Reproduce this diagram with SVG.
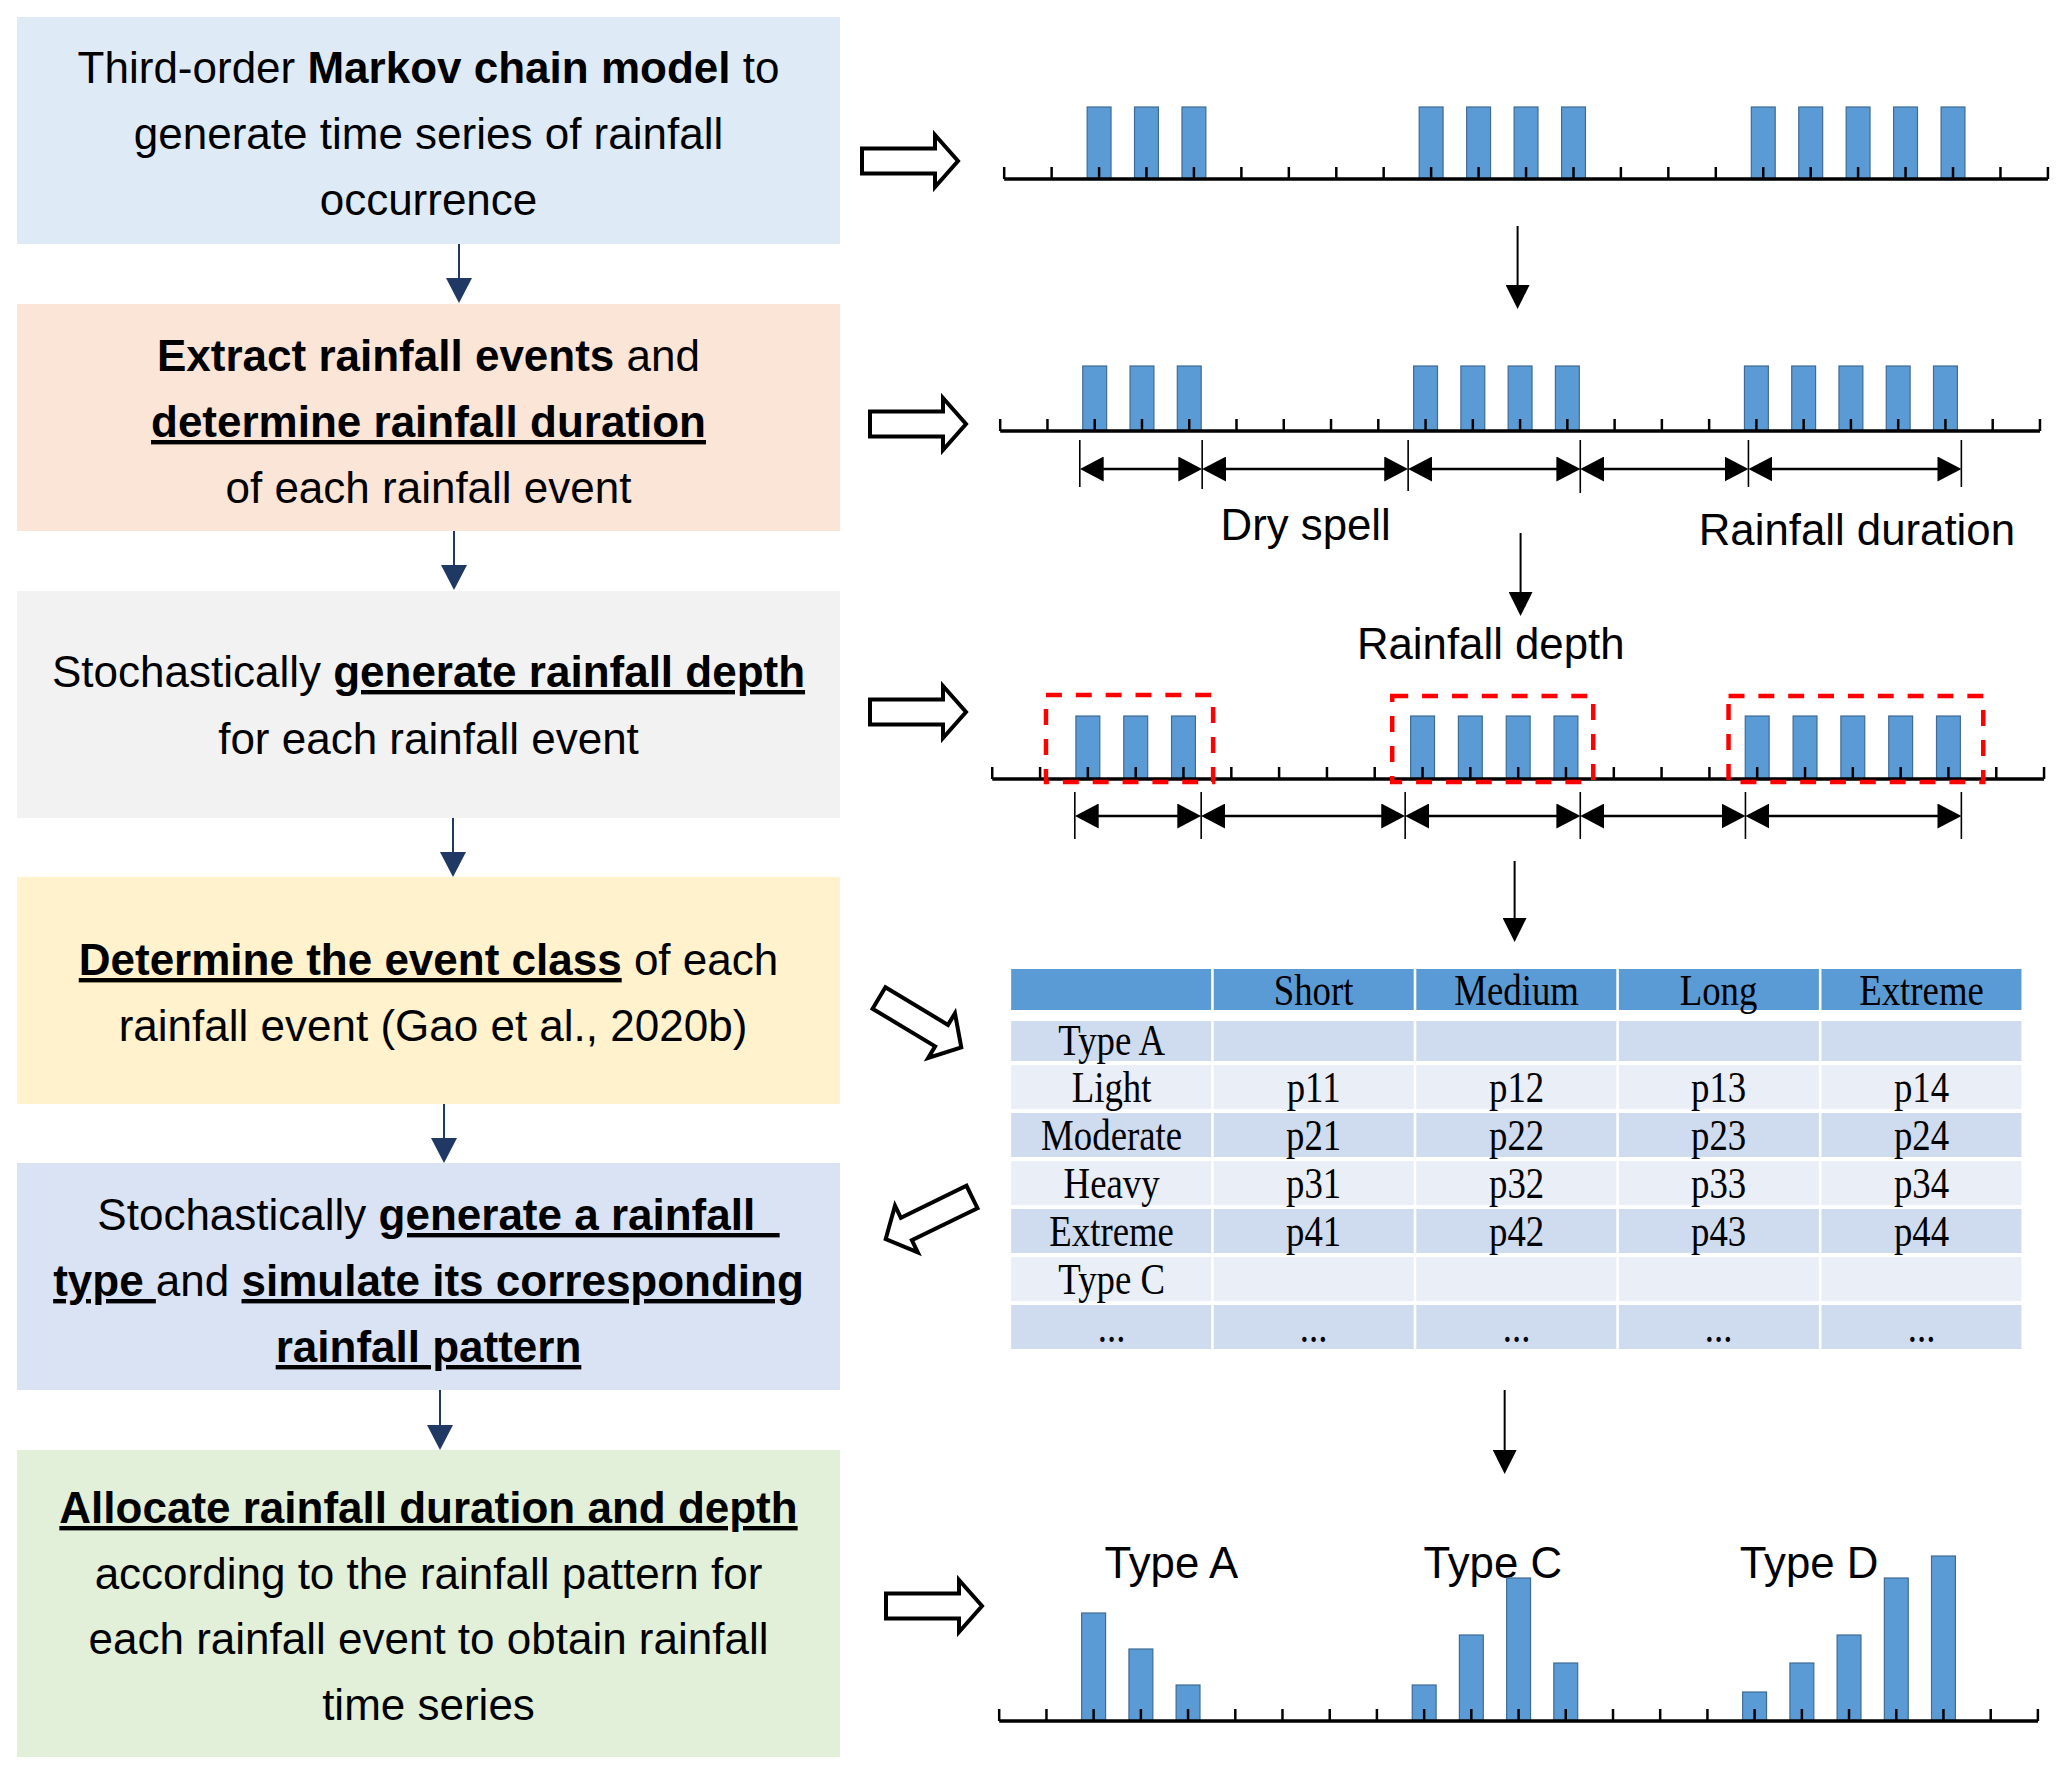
<svg xmlns="http://www.w3.org/2000/svg" xmlns:xlink="http://www.w3.org/1999/xlink" width="2067" height="1776" viewBox="0 0 2067 1776">
<style>
.lbl{font-family:"Liberation Sans",Arial,sans-serif;font-size:44px;fill:#000;text-anchor:middle}
.b{font-weight:bold}
.u{text-decoration:underline}
.tb{font-family:"Liberation Serif","Times New Roman",serif;font-size:37px;fill:#000;text-anchor:middle}
.bar{fill:#5B9BD5;stroke:#3F6A94;stroke-width:1.2}
.axis{stroke:#000;stroke-width:3.5;fill:none}
.tick{stroke:#000;stroke-width:2.5;fill:none}
.hollow{fill:#fff;stroke:#000;stroke-width:4;stroke-linejoin:miter}
.navy{stroke:#1F3864;stroke-width:2;fill:none}
.blk{stroke:#000;stroke-width:2;fill:none}
.dim{stroke:#000;stroke-width:2.3;fill:none}
.vl{stroke:#000;stroke-width:1.6;fill:none}
.red{fill:none;stroke:#FF0000;stroke-width:4.5;stroke-dasharray:16 14}
.hdr{fill:#5B9BD5}
.rd{fill:#CFDBEE}
.rl{fill:#E9EEF7}
</style>
<defs>
<marker id="navyHead" viewBox="0 0 25 26" refX="15" refY="13" markerWidth="25" markerHeight="26" orient="auto" markerUnits="userSpaceOnUse"><path d="M0,0 L25,13 L0,26 Z" fill="#1F3864"/></marker>
<marker id="blkHead" viewBox="0 0 24 24" refX="14" refY="12" markerWidth="24" markerHeight="24" orient="auto" markerUnits="userSpaceOnUse"><path d="M0,0 L24,12 L0,24 Z" fill="#000"/></marker>
<marker id="dimHead" viewBox="0 0 24 25" refX="20" refY="12.5" markerWidth="24" markerHeight="25" orient="auto-start-reverse" markerUnits="userSpaceOnUse"><path d="M0,0 L24,12.5 L0,25 Z" fill="#000"/></marker>
<path id="hollowArrow" d="M0,-12.5 H73 V-26 L96,0 L73,26 V12.5 H0 Z"/>
</defs>
<rect x="0" y="0" width="2067" height="1776" fill="#fff"/>

<!-- Left flow boxes -->
<g id="n1">
<rect x="17" y="17" width="823" height="227" fill="#DEEBF7"/>
<text class="lbl" x="428.5" y="83">Third-order <tspan class="b">Markov chain model</tspan> to</text>
<text class="lbl" x="428.5" y="149">generate time series of rainfall</text>
<text class="lbl" x="428.5" y="215">occurrence</text>
</g>
<g id="n2">
<rect x="17" y="304" width="823" height="227" fill="#FBE5D6"/>
<text class="lbl" x="428.5" y="371"><tspan class="b">Extract rainfall events</tspan> and</text>
<text class="lbl b u" x="428.5" y="437">determine rainfall duration</text>
<text class="lbl" x="428.5" y="503">of each rainfall event</text>
</g>
<g id="n3">
<rect x="17" y="591" width="823" height="227" fill="#F2F2F2"/>
<text class="lbl" x="428.5" y="687">Stochastically <tspan class="b u">generate rainfall depth</tspan></text>
<text class="lbl" x="428.5" y="754">for each rainfall event</text>
</g>
<g id="n4">
<rect x="17" y="877" width="823" height="227" fill="#FFF2CC"/>
<text class="lbl" x="428.5" y="975"><tspan class="b u">Determine the event class</tspan> of each</text>
<text class="lbl" x="433" y="1041">rainfall event (Gao et al., 2020b)</text>
</g>
<g id="n5">
<rect x="17" y="1163" width="823" height="227" fill="#DAE3F3"/>
<text class="lbl" x="438.5" y="1230" xml:space="preserve" style="white-space:pre">Stochastically <tspan class="b u">generate a rainfall  </tspan></text>
<text class="lbl" x="428.5" y="1296" xml:space="preserve" style="white-space:pre"><tspan class="b u">type </tspan>and <tspan class="b u">simulate its corresponding</tspan></text>
<text class="lbl b u" x="428.5" y="1362">rainfall pattern</text>
</g>
<g id="n6">
<rect x="17" y="1450" width="823" height="307" fill="#E2F0D9"/>
<text class="lbl b u" x="428.5" y="1523">Allocate rainfall duration and depth</text>
<text class="lbl" x="428.5" y="1589">according to the rainfall pattern for</text>
<text class="lbl" x="428.5" y="1654">each rainfall event to obtain rainfall</text>
<text class="lbl" x="428.5" y="1720">time series</text>
</g>

<!-- Timeline 1 -->
<g id="n7" transform="matrix(0.995,0,0,1,4.2,0)">
<rect class="bar" x="1088.4" y="107" width="24" height="72"/>
<rect class="bar" x="1136" y="107" width="24" height="72"/>
<rect class="bar" x="1183.7" y="107" width="24" height="72"/>
<rect class="bar" x="1422.1" y="107" width="24" height="72"/>
<rect class="bar" x="1469.8" y="107" width="24" height="72"/>
<rect class="bar" x="1517.5" y="107" width="24" height="72"/>
<rect class="bar" x="1565.2" y="107" width="24" height="72"/>
<rect class="bar" x="1755.9" y="107" width="24" height="72"/>
<rect class="bar" x="1803.6" y="107" width="24" height="72"/>
<rect class="bar" x="1851.2" y="107" width="24" height="72"/>
<rect class="bar" x="1898.9" y="107" width="24" height="72"/>
<rect class="bar" x="1946.6" y="107" width="24" height="72"/>
<path class="tick" d="M1005,167V179M1052.7,167V179M1100.4,167V179M1148,167V179M1195.7,167V179M1243.4,167V179M1291.1,167V179M1338.8,167V179M1386.4,167V179M1434.1,167V179M1481.8,167V179M1529.5,167V179M1577.2,167V179M1624.8,167V179M1672.5,167V179M1720.2,167V179M1767.9,167V179M1815.6,167V179M1863.2,167V179M1910.9,167V179M1958.6,167V179M2006.3,167V179M2054,167V179"/>
<line class="axis" x1="1005" y1="179" x2="2054" y2="179"/>
</g>

<!-- Timeline 2 -->
<g id="n8" transform="matrix(0.995,0,0,1,4.2,0)">
<rect class="bar" x="1084" y="366" width="24" height="65"/>
<rect class="bar" x="1131.5" y="366" width="24" height="65"/>
<rect class="bar" x="1179" y="366" width="24" height="65"/>
<rect class="bar" x="1416.5" y="366" width="24" height="65"/>
<rect class="bar" x="1464" y="366" width="24" height="65"/>
<rect class="bar" x="1511.5" y="366" width="24" height="65"/>
<rect class="bar" x="1559" y="366" width="24" height="65"/>
<rect class="bar" x="1749" y="366" width="24" height="65"/>
<rect class="bar" x="1796.5" y="366" width="24" height="65"/>
<rect class="bar" x="1844" y="366" width="24" height="65"/>
<rect class="bar" x="1891.5" y="366" width="24" height="65"/>
<rect class="bar" x="1939" y="366" width="24" height="65"/>
<path class="tick" d="M1001,419V431M1048.5,419V431M1096,419V431M1143.5,419V431M1191,419V431M1238.5,419V431M1286,419V431M1333.5,419V431M1381,419V431M1428.5,419V431M1476,419V431M1523.5,419V431M1571,419V431M1618.5,419V431M1666,419V431M1713.5,419V431M1761,419V431M1808.5,419V431M1856,419V431M1903.5,419V431M1951,419V431M1998.5,419V431M2046,419V431"/>
<line class="axis" x1="1001" y1="431" x2="2046" y2="431"/>
<path class="vl" d="M1081,440V487M1204,440V489M1411,440V491M1584,440V493M1753,440V487M1967,440V487"/>
<text class="lbl" x="1308" y="540">Dry spell</text>
<text class="lbl" x="1862" y="545">Rainfall duration</text>
</g>

<!-- Timeline 3 -->
<g id="n9" transform="matrix(0.995,0,0,1,4.2,0)">
<text class="lbl" x="1494" y="659">Rainfall depth</text>
<rect class="bar" x="1077.1" y="716" width="24" height="63"/>
<rect class="bar" x="1125.2" y="716" width="24" height="63"/>
<rect class="bar" x="1173.2" y="716" width="24" height="63"/>
<rect class="bar" x="1413.5" y="716" width="24" height="63"/>
<rect class="bar" x="1461.5" y="716" width="24" height="63"/>
<rect class="bar" x="1509.6" y="716" width="24" height="63"/>
<rect class="bar" x="1557.6" y="716" width="24" height="63"/>
<rect class="bar" x="1749.8" y="716" width="24" height="63"/>
<rect class="bar" x="1797.9" y="716" width="24" height="63"/>
<rect class="bar" x="1845.9" y="716" width="24" height="63"/>
<rect class="bar" x="1894" y="716" width="24" height="63"/>
<rect class="bar" x="1942" y="716" width="24" height="63"/>
<path class="tick" d="M993,767V779M1041.1,767V779M1089.1,767V779M1137.2,767V779M1185.2,767V779M1233.3,767V779M1281.3,767V779M1329.4,767V779M1377.4,767V779M1425.5,767V779M1473.5,767V779M1521.6,767V779M1569.6,767V779M1617.7,767V779M1665.7,767V779M1713.8,767V779M1761.8,767V779M1809.9,767V779M1857.9,767V779M1906,767V779M1954,767V779M2002.1,767V779M2050.1,767V779"/>
<line class="axis" x1="993" y1="779" x2="2050" y2="779"/>
<rect class="red" x="1047" y="695" width="168" height="87"/>
<rect class="red" x="1395" y="696" width="202" height="86"/>
<rect class="red" x="1733" y="696" width="256" height="86"/>
<path class="vl" d="M1076,792V839M1203,792V839M1408,792V839M1584,792V839M1750,792V839M1967,792V839"/>
</g>

<!-- Table -->
<g id="n10" transform="matrix(0.995,0,0,1,4.2,0)">
<rect class="hdr" x="1012" y="969" width="201" height="41"/>
<rect class="hdr" x="1215.6" y="969" width="201" height="41"/>
<rect class="hdr" x="1419.2" y="969" width="201" height="41"/>
<rect class="hdr" x="1622.8" y="969" width="201" height="41"/>
<rect class="hdr" x="1826.4" y="969" width="201" height="41"/>
<g class="rd">
<rect x="1012" y="1021" width="201" height="40"/><rect x="1215.6" y="1021" width="201" height="40"/><rect x="1419.2" y="1021" width="201" height="40"/><rect x="1622.8" y="1021" width="201" height="40"/><rect x="1826.4" y="1021" width="201" height="40"/>
<rect x="1012" y="1113" width="201" height="44"/><rect x="1215.6" y="1113" width="201" height="44"/><rect x="1419.2" y="1113" width="201" height="44"/><rect x="1622.8" y="1113" width="201" height="44"/><rect x="1826.4" y="1113" width="201" height="44"/>
<rect x="1012" y="1209" width="201" height="44"/><rect x="1215.6" y="1209" width="201" height="44"/><rect x="1419.2" y="1209" width="201" height="44"/><rect x="1622.8" y="1209" width="201" height="44"/><rect x="1826.4" y="1209" width="201" height="44"/>
<rect x="1012" y="1305" width="201" height="44"/><rect x="1215.6" y="1305" width="201" height="44"/><rect x="1419.2" y="1305" width="201" height="44"/><rect x="1622.8" y="1305" width="201" height="44"/><rect x="1826.4" y="1305" width="201" height="44"/>
</g>
<g class="rl">
<rect x="1012" y="1065" width="201" height="44"/><rect x="1215.6" y="1065" width="201" height="44"/><rect x="1419.2" y="1065" width="201" height="44"/><rect x="1622.8" y="1065" width="201" height="44"/><rect x="1826.4" y="1065" width="201" height="44"/>
<rect x="1012" y="1161" width="201" height="44"/><rect x="1215.6" y="1161" width="201" height="44"/><rect x="1419.2" y="1161" width="201" height="44"/><rect x="1622.8" y="1161" width="201" height="44"/><rect x="1826.4" y="1161" width="201" height="44"/>
<rect x="1012" y="1257" width="201" height="44"/><rect x="1215.6" y="1257" width="201" height="44"/><rect x="1419.2" y="1257" width="201" height="44"/><rect x="1622.8" y="1257" width="201" height="44"/><rect x="1826.4" y="1257" width="201" height="44"/>
</g>
<g transform="matrix(1,0,0,1.2,0,-201)">
<text class="tb" x="1316" y="1005">Short</text>
<text class="tb" x="1520" y="1005">Medium</text>
<text class="tb" x="1723" y="1005">Long</text>
<text class="tb" x="1927" y="1005">Extreme</text>
</g>
<g transform="matrix(1,0,0,1.2,0,-211)">
<text class="tb" x="1113" y="1055">Type A</text>
</g>
<g transform="matrix(1,0,0,1.2,0,-220.4)">
<text class="tb" x="1113" y="1102">Light</text>
<text class="tb" x="1316" y="1102">p11</text>
<text class="tb" x="1520" y="1102">p12</text>
<text class="tb" x="1723" y="1102">p13</text>
<text class="tb" x="1927" y="1102">p14</text>
</g>
<g transform="matrix(1,0,0,1.2,0,-230)">
<text class="tb" x="1113" y="1150">Moderate</text>
<text class="tb" x="1316" y="1150">p21</text>
<text class="tb" x="1520" y="1150">p22</text>
<text class="tb" x="1723" y="1150">p23</text>
<text class="tb" x="1927" y="1150">p24</text>
</g>
<g transform="matrix(1,0,0,1.2,0,-239.6)">
<text class="tb" x="1113" y="1198">Heavy</text>
<text class="tb" x="1316" y="1198">p31</text>
<text class="tb" x="1520" y="1198">p32</text>
<text class="tb" x="1723" y="1198">p33</text>
<text class="tb" x="1927" y="1198">p34</text>
</g>
<g transform="matrix(1,0,0,1.2,0,-249.2)">
<text class="tb" x="1113" y="1246">Extreme</text>
<text class="tb" x="1316" y="1246">p41</text>
<text class="tb" x="1520" y="1246">p42</text>
<text class="tb" x="1723" y="1246">p43</text>
<text class="tb" x="1927" y="1246">p44</text>
</g>
<g transform="matrix(1,0,0,1.2,0,-258.8)">
<text class="tb" x="1113" y="1294">Type C</text>
</g>
<g transform="matrix(1,0,0,1.2,0,-268.4)">
<text class="tb" x="1113" y="1342">...</text>
<text class="tb" x="1316" y="1342">...</text>
<text class="tb" x="1520" y="1342">...</text>
<text class="tb" x="1723" y="1342">...</text>
<text class="tb" x="1927" y="1342">...</text>
</g>
</g>

<!-- Rainfall patterns -->
<g id="n11" transform="matrix(0.995,0,0,1,4.2,0)">
<text class="lbl" x="1173" y="1578">Type A</text>
<text class="lbl" x="1496" y="1578">Type C</text>
<text class="lbl" x="1814" y="1578">Type D</text>
<rect class="bar" x="1082.9" y="1613" width="24" height="108"/>
<rect class="bar" x="1130.4" y="1649" width="24" height="72"/>
<rect class="bar" x="1177.8" y="1685" width="24" height="36"/>
<rect class="bar" x="1415.1" y="1685" width="24" height="36"/>
<rect class="bar" x="1462.5" y="1635" width="24" height="86"/>
<rect class="bar" x="1510" y="1578" width="24" height="143"/>
<rect class="bar" x="1557.4" y="1663" width="24" height="58"/>
<rect class="bar" x="1747.2" y="1692" width="24" height="29"/>
<rect class="bar" x="1794.7" y="1663" width="24" height="58"/>
<rect class="bar" x="1842.1" y="1635" width="24" height="86"/>
<rect class="bar" x="1889.6" y="1578" width="24" height="143"/>
<rect class="bar" x="1937" y="1556" width="24" height="165"/>
<path class="tick" d="M1000,1709V1721M1047.5,1709V1721M1094.9,1709V1721M1142.4,1709V1721M1189.8,1709V1721M1237.3,1709V1721M1284.7,1709V1721M1332.2,1709V1721M1379.6,1709V1721M1427.1,1709V1721M1474.5,1709V1721M1522,1709V1721M1569.4,1709V1721M1616.9,1709V1721M1664.3,1709V1721M1711.8,1709V1721M1759.2,1709V1721M1806.7,1709V1721M1854.1,1709V1721M1901.6,1709V1721M1949,1709V1721M1996.5,1709V1721M2043.9,1709V1721"/>
<line class="axis" x1="1000" y1="1721" x2="2044" y2="1721"/>
</g>

<!-- Connectors -->
<g id="connectors">
<line class="navy" x1="459" y1="244" x2="459" y2="293" marker-end="url(#navyHead)"/>
<line class="navy" x1="454" y1="531" x2="454" y2="580" marker-end="url(#navyHead)"/>
<line class="navy" x1="453" y1="818" x2="453" y2="867" marker-end="url(#navyHead)"/>
<line class="navy" x1="444" y1="1104" x2="444" y2="1153" marker-end="url(#navyHead)"/>
<line class="navy" x1="440" y1="1390" x2="440" y2="1440" marker-end="url(#navyHead)"/>
<use href="#hollowArrow" class="hollow" transform="translate(862,161)"/>
<use href="#hollowArrow" class="hollow" transform="translate(870,424)"/>
<use href="#hollowArrow" class="hollow" transform="translate(870,712)"/>
<use href="#hollowArrow" class="hollow" transform="translate(879,998) rotate(31)"/>
<use href="#hollowArrow" class="hollow" transform="translate(972,1197) rotate(154)"/>
<use href="#hollowArrow" class="hollow" transform="translate(886,1606)"/>
<g transform="matrix(0.995,0,0,1,4.2,0)">
<line class="blk" x1="1521" y1="226" x2="1521" y2="299" marker-end="url(#blkHead)"/>
<line class="blk" x1="1524" y1="533" x2="1524" y2="606" marker-end="url(#blkHead)"/>
<line class="blk" x1="1518" y1="861" x2="1518" y2="932" marker-end="url(#blkHead)"/>
<line class="blk" x1="1508" y1="1390" x2="1508" y2="1464" marker-end="url(#blkHead)"/>
<g marker-start="url(#dimHead)" marker-end="url(#dimHead)">
<line class="dim" x1="1085" y1="469" x2="1200" y2="469"/>
<line class="dim" x1="1208" y1="469" x2="1407" y2="469"/>
<line class="dim" x1="1415" y1="469" x2="1580" y2="469"/>
<line class="dim" x1="1588" y1="469" x2="1749" y2="469"/>
<line class="dim" x1="1757" y1="469" x2="1963" y2="469"/>
<line class="dim" x1="1080" y1="816" x2="1199" y2="816"/>
<line class="dim" x1="1207" y1="816" x2="1404" y2="816"/>
<line class="dim" x1="1412" y1="816" x2="1580" y2="816"/>
<line class="dim" x1="1588" y1="816" x2="1746" y2="816"/>
<line class="dim" x1="1754" y1="816" x2="1963" y2="816"/>
</g>
</g>
</g>
</svg>
